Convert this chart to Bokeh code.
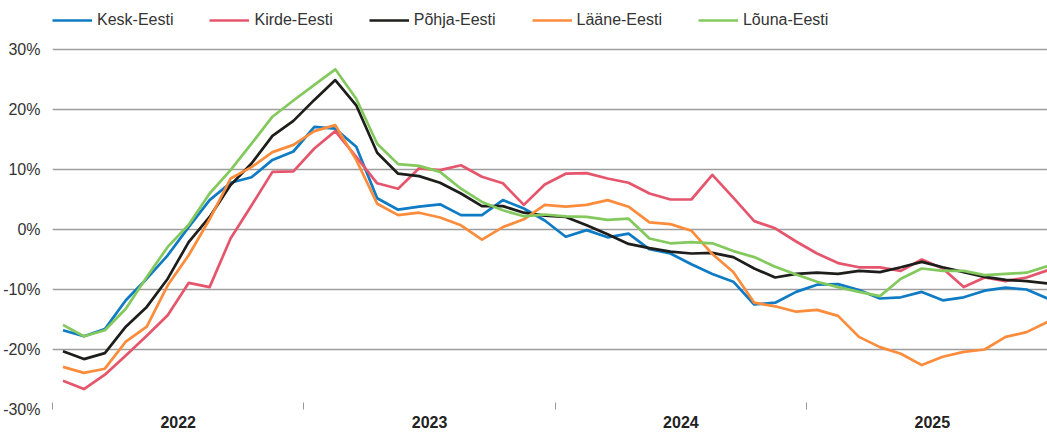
import numpy as np
from bokeh.plotting import figure
from bokeh.models import Range1d, FixedTicker, Legend, LegendItem, ColumnDataSource
from bokeh.embed import file_html
from bokeh.resources import INLINE

# ---- data (monthly, Jan 2022 .. Dec 2025), % change ----
years = [2022, 2023, 2024, 2025]
months = [f"{y}-{m:02d}" for y in years for m in range(1, 13)]

kesk = [-16.8, -17.8, -16.6, -11.8, -8.2, -4.3, 0.4, 4.9, 7.8, 8.7, 11.6, 13.0,
        17.1, 16.8, 13.8, 5.2, 3.3, 3.8, 4.2, 2.4, 2.4, 4.9, 3.5, 1.5,
        -1.2, -0.1, -1.3, -0.7, -3.3, -4.0, -5.8, -7.4, -8.7, -12.5, -12.2, -10.4,
        -9.2, -9.1, -10.1, -11.5, -11.3, -10.4, -11.8, -11.3, -10.2, -9.7, -10.0, -11.5]
kirde = [-25.2, -26.6, -24.2, -21.0, -17.7, -14.3, -8.9, -9.6, -1.5, 4.0, 9.6, 9.7,
         13.5, 16.4, 12.1, 7.7, 6.8, 10.2, 9.9, 10.7, 8.8, 7.7, 4.1, 7.5,
         9.3, 9.4, 8.5, 7.8, 6.0, 5.0, 5.0, 9.1, 5.3, 1.4, 0.2, -2.0,
         -4.0, -5.6, -6.3, -6.3, -6.9, -5.0, -6.5, -9.6, -8.0, -8.6, -8.0, -6.8]
pohja = [-20.3, -21.6, -20.6, -16.2, -12.9, -8.2, -2.1, 2.1, 7.4, 11.0, 15.6, 18.1,
         21.6, 24.9, 20.7, 12.8, 9.3, 8.9, 7.8, 6.0, 3.9, 3.9, 2.8, 2.3,
         2.1, 0.7, -0.8, -2.4, -3.1, -3.7, -4.0, -3.9, -4.6, -6.5, -8.0, -7.4,
         -7.2, -7.4, -6.9, -7.1, -6.3, -5.4, -6.3, -7.1, -7.9, -8.4, -8.6, -9.0]
laane = [-22.9, -23.9, -23.2, -18.7, -16.2, -9.3, -4.3, 1.7, 8.5, 10.4, 12.9, 14.1,
         16.4, 17.4, 11.6, 4.3, 2.4, 2.8, 2.0, 0.7, -1.7, 0.4, 1.7, 4.1,
         3.8, 4.1, 4.9, 3.8, 1.2, 0.9, -0.2, -4.1, -7.1, -12.2, -12.8, -13.7,
         -13.4, -14.4, -17.9, -19.6, -20.7, -22.6, -21.2, -20.4, -20.0, -17.9, -17.1, -15.4]
louna = [-15.9, -17.8, -16.8, -13.2, -7.9, -2.9, 0.8, 6.0, 9.9, 14.3, 18.8, 21.5,
         24.1, 26.7, 21.8, 14.3, 10.9, 10.6, 9.6, 6.8, 4.6, 3.2, 2.2, 2.5,
         2.2, 2.1, 1.6, 1.8, -1.5, -2.3, -2.1, -2.3, -3.6, -4.6, -6.2, -7.5,
         -8.7, -9.6, -10.4, -11.1, -8.2, -6.5, -6.9, -6.9, -7.6, -7.4, -7.2, -6.1]

series_names = ["Kesk-Eesti", "Kirde-Eesti", "Põhja-Eesti", "Lääne-Eesti", "Lõuna-Eesti"]
series_values = [kesk, kirde, pohja, laane, louna]
series_colors = ["#0f7bc4", "#e5566d", "#1d1d1b", "#fb8c3c", "#84c95d"]

y_ticks = [-30, -20, -10, 0, 10, 20, 30]
y_tick_labels = ["-30%", "-20%", "-10%", "0%", "10%", "20%", "30%"]
year_labels = [str(y) for y in years]

# ---- positions derived from data ----
x = np.arange(len(months)) + 0.5
year_centers = [i * 12 + 6 for i in range(len(years))]
year_bounds = [i * 12 for i in range(len(years) + 1)]

FONT = "Liberation Sans"
GRID_H = 360            # pixel height of the -30%..30% band
HEAD = 49               # pixels above the 30% line (room for the legend)
FRAME_H = GRID_H + HEAD
y_lo, y_hi = min(y_ticks), max(y_ticks)
y_top = y_hi + HEAD * (y_hi - y_lo) / GRID_H

p = figure(frame_width=995, frame_height=FRAME_H,
           x_range=Range1d(0, len(months) - 0.5), y_range=Range1d(y_lo, y_top),
           output_backend="svg", toolbar_location=None,
           min_border_left=52, min_border_right=0, min_border_top=0, min_border_bottom=24)
p.outline_line_color = None
p.background_fill_color = "white"
p.border_fill_color = "white"

# y axis
p.yaxis.ticker = FixedTicker(ticks=y_ticks)
p.yaxis.major_label_overrides = {t: l for t, l in zip(y_ticks, y_tick_labels)}
p.yaxis.axis_line_color = None
p.yaxis.major_tick_line_color = None
p.yaxis.minor_tick_line_color = None
p.yaxis.major_label_text_font = FONT
p.yaxis.major_label_text_font_size = "16px"
p.yaxis.major_label_text_color = "#333333"
p.yaxis.major_label_standoff = 6

# x axis
p.xaxis.ticker = FixedTicker(ticks=year_centers, minor_ticks=year_bounds)
p.xaxis.major_label_overrides = {c: l for c, l in zip(year_centers, year_labels)}
p.xaxis.axis_line_color = None
p.xaxis.major_tick_line_color = None
p.xaxis.major_tick_in = 0
p.xaxis.major_tick_out = 0
p.xaxis.minor_tick_line_color = "#9a9a9a"
p.xaxis.minor_tick_line_width = 1
p.xaxis.minor_tick_in = 7
p.xaxis.minor_tick_out = 0
p.xaxis.major_label_text_font = FONT
p.xaxis.major_label_text_font_style = "bold"
p.xaxis.major_label_text_font_size = "16px"
p.xaxis.major_label_text_color = "#222222"
p.xaxis.major_label_standoff = 6

# grids
p.xgrid.grid_line_color = None
p.ygrid.ticker = FixedTicker(ticks=y_ticks)
p.ygrid.grid_line_color = "#9d9d9d"
p.ygrid.grid_line_width = 1.5

items = []
for name, vals, col in zip(series_names, series_values, series_colors):
    src = ColumnDataSource(dict(x=x, y=vals, month=months))
    r = p.line("x", "y", source=src, line_color=col, line_width=2.7, line_join="round")
    items.append(LegendItem(label=name, renderers=[r]))

# legend in the head room of the frame: top edge 10px below the frame top
legend = Legend(items=items, orientation="horizontal", location=(0, FRAME_H - 30),
                glyph_width=40, glyph_height=20, label_height=20, label_standoff=5, spacing=36,
                padding=0, margin=0, border_line_color=None, background_fill_alpha=0,
                label_text_font=FONT, label_text_font_size="16px", label_text_color="#333333")
p.add_layout(legend, "center")

open("out.html", "w").write(file_html(p, INLINE))
